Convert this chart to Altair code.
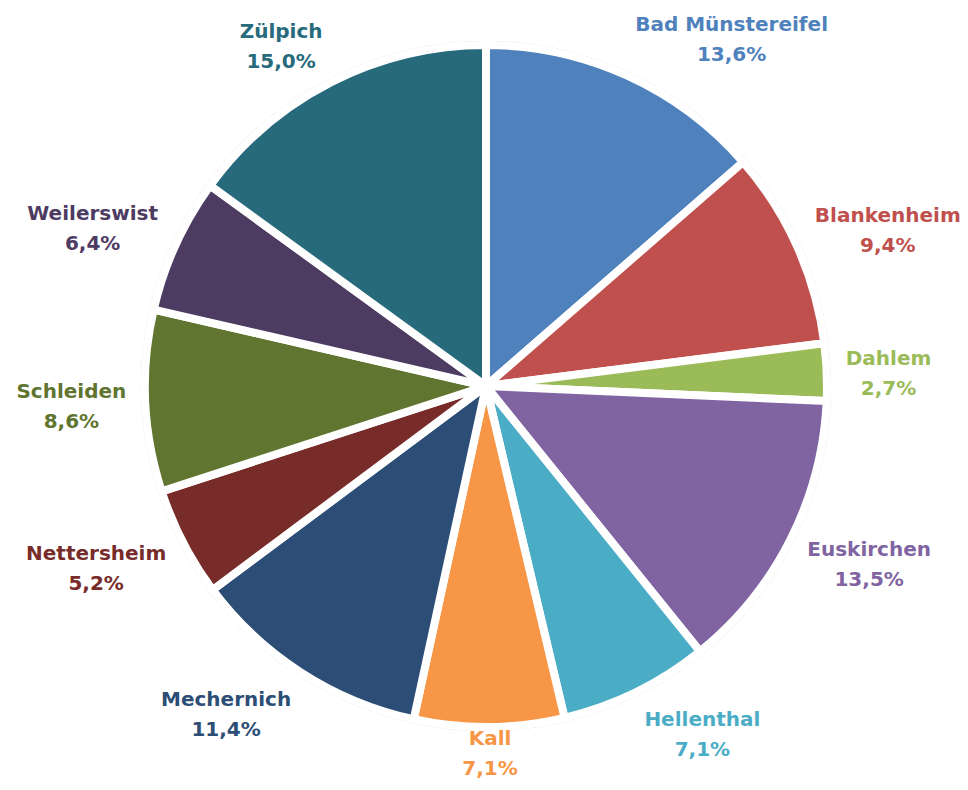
import math
import altair as alt
import pandas as pd

# Data (clockwise from 12 o'clock)
names = ["Bad Münstereifel", "Blankenheim", "Dahlem", "Euskirchen", "Hellenthal",
         "Kall", "Mechernich", "Nettersheim", "Schleiden", "Weilerswist", "Zülpich"]
shares = [13.6, 9.4, 2.7, 13.5, 7.1, 7.1, 11.4, 5.2, 8.6, 6.4, 15.0]
colors = ["#4F81BD", "#C0504D", "#9BBB59", "#8064A2", "#4BACC6", "#F79646",
          "#2C4D75", "#772C2A", "#5F7530", "#4D3B62", "#276A7C"]

# layout constants
W, H = 952, 774
CX, CY = 478, 378          # pie centre inside the plot area
R = 341                    # outer radius (white stroke eats a few px)
R_LABEL = 360              # anchor radius for the labels
LABEL_DY = 4               # labels sit slightly low in the reference
FONT_SIZE = 20
LINE_H = 30
BOX_H = 44

# approximate advance widths (em) of DejaVu Sans Bold, for label-box estimates
GLYPH_W = {" ": .348, "%": 1.002, ",": .380, "A": .774, "B": .762, "D": .830,
           "E": .683, "H": .837, "K": .775, "M": .995, "N": .837, "S": .720,
           "W": 1.103, "Z": .725, "a": .675, "c": .593, "d": .716, "e": .678,
           "f": .435, "h": .712, "i": .343, "k": .665, "l": .343, "m": 1.042,
           "n": .712, "p": .716, "r": .493, "s": .595, "t": .478, "u": .712,
           "ü": .712, "w": .924}


def text_w(s):
    return sum(GLYPH_W.get(ch, .696) for ch in s) * FONT_SIZE


total = sum(shares)
rows = []
cum = 0.0
for i, (n, s) in enumerate(zip(names, shares)):
    mid = (cum + s / 2) / total * 2 * math.pi
    cum += s
    pct = f"{s:.1f}".replace(".", ",") + "%"
    w = max(text_w(n), text_w(pct))
    sx, cy_ = math.sin(mid), math.cos(mid)
    fx = max(-1.0, min(1.0, 2.5 * sx))
    fy = max(-1.0, min(1.0, 1.3 * cy_))
    lx = CX + R_LABEL * sx + fx * w / 2
    # centre of the two-line block, then move to the first line's position
    ly = CY - R_LABEL * cy_ - fy * BOX_H / 2 - LINE_H / 2 + LABEL_DY
    # keep the whole block inside the drawing area
    ly = min(ly, H - LINE_H - 13)
    rows.append({"idx": i, "name": n, "share": s,
                 "label": n + "\n" + pct, "lx": lx, "ly": ly})

df = pd.DataFrame(rows)

color_scale = alt.Scale(domain=names, range=colors)

base = alt.Chart(df)

arc_enc = dict(
    theta=alt.Theta("share:Q", stack=True),
    order=alt.Order("idx:Q", sort="ascending"),
    color=alt.Color("name:N", scale=color_scale, legend=None),
    x=alt.value(CX),
    y=alt.value(CY),
)

# faint grey edge (shadow-like) along the white separators
shadow = base.mark_arc(radius=R - 1, stroke="#d2d2d2", strokeWidth=10).encode(**arc_enc)
pie = base.mark_arc(radius=R, stroke="white", strokeWidth=8).encode(**arc_enc)

labels = base.mark_text(
    font="DejaVu Sans", fontSize=FONT_SIZE, fontWeight="bold",
    align="center", baseline="middle", lineBreak="\n", lineHeight=LINE_H,
).encode(
    x=alt.X("lx:Q", scale=None),
    y=alt.Y("ly:Q", scale=None),
    text="label:N",
    color=alt.Color("name:N", scale=color_scale, legend=None),
)

chart = alt.layer(shadow, pie, labels).properties(
    width=W, height=H, padding=0, autosize="none"
).configure_view(stroke=None)

chart.save("out.html", embed_options={"renderer": "svg", "actions": False})
